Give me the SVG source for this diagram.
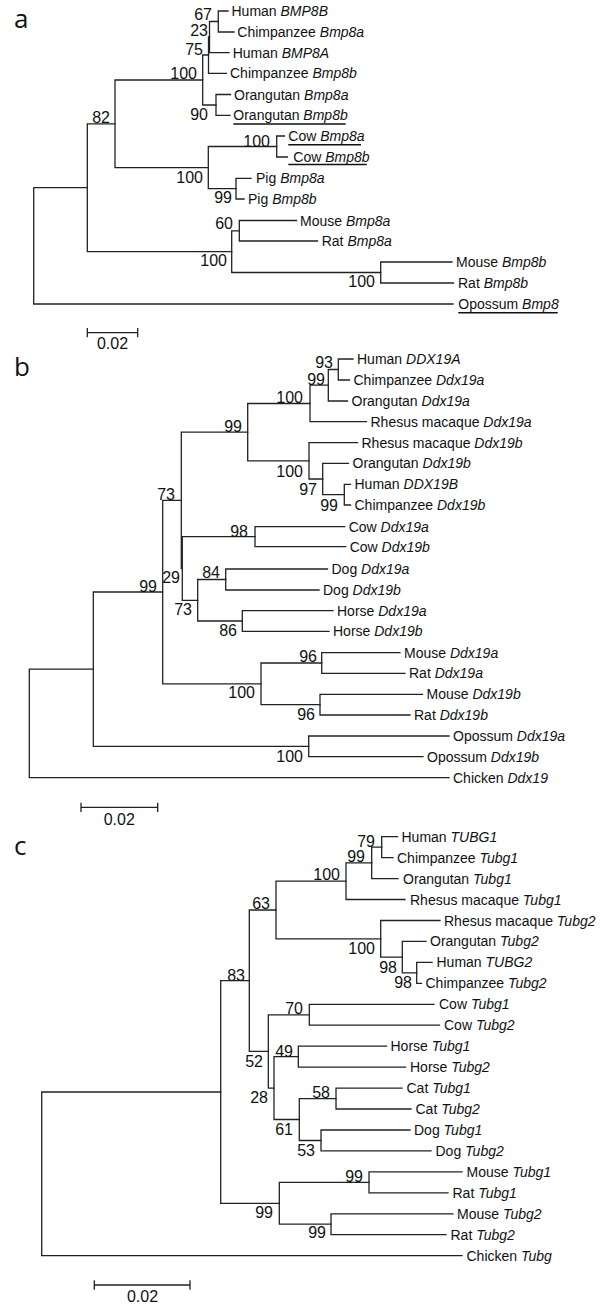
<svg xmlns="http://www.w3.org/2000/svg" width="600" height="1306" viewBox="0 0 600 1306">
<style>
.br{fill:none;stroke:#222;stroke-width:1.3;stroke-linecap:square}
.lf{font-family:"Liberation Sans",Arial,sans-serif;font-size:14px;fill:#111}
.it{font-style:italic}
.bs{font-family:"Liberation Sans",Arial,sans-serif;font-size:16px;fill:#111;text-anchor:end}
.sc{font-family:"Liberation Sans",Arial,sans-serif;font-size:16px;fill:#111;text-anchor:middle}
.pl{font-family:"Open Sans","DejaVu Sans",sans-serif;font-size:26px;fill:#111}
.ul{stroke:#111;stroke-width:1.6}
</style>
<rect width="600" height="1306" fill="#fff"/>

<!-- Panel a -->
<text class="pl" x="14" y="28">a</text>
<g id="a-connectors">
<path class="br" d="M228,11 H218.3 V32 H234"/>
<path class="br" d="M218.3,21.5 H209.5 V52.7 H229"/>
<path class="br" d="M209.5,37 H208.5 V73.3 H226.5"/>
<path class="br" d="M230.5,94.5 H216 V115.3 H230"/>
<path class="br" d="M208.5,55 H202.7 V105 H216"/>
<path class="br" d="M284.5,136 H276.7 V157 H287.3"/>
<path class="br" d="M251,178.3 H236 V199 H244"/>
<path class="br" d="M276.7,146.5 H208.3 V188.7 H236"/>
<path class="br" d="M202.7,80 H115 V167.6 H208.3"/>
<path class="br" d="M296.5,220.5 H239.3 V241 H317.5"/>
<path class="br" d="M452,262 H380.7 V283 H453.5"/>
<path class="br" d="M239.3,230.8 H231.7 V272.5 H380.7"/>
<path class="br" d="M115,123.8 H87.3 V251.6 H231.7"/>
<path class="br" d="M87.3,187.7 H33.7 V304 H453"/>
</g>
<g id="a-leaves">
<g id="a-human-bmp8b"><text class="lf" x="231.5" y="16">Human <tspan class="it">BMP8B</tspan></text></g>
<g id="a-chimp-bmp8a"><text class="lf" x="237.3" y="37">Chimpanzee <tspan class="it">Bmp8a</tspan></text></g>
<g id="a-human-bmp8a"><text class="lf" x="232.7" y="57.7">Human <tspan class="it">BMP8A</tspan></text></g>
<g id="a-chimp-bmp8b"><text class="lf" x="230" y="78.3">Chimpanzee <tspan class="it">Bmp8b</tspan></text></g>
<g id="a-orang-bmp8a"><text class="lf" x="234" y="99.5">Orangutan <tspan class="it">Bmp8a</tspan></text></g>
<g id="a-orang-bmp8b"><text class="lf" x="233.3" y="120.3">Orangutan <tspan class="it">Bmp8b</tspan></text><line class="ul" x1="233.3" y1="124" x2="345.7" y2="124"/></g>
<g id="a-cow-bmp8a"><text class="lf" x="288.3" y="141">Cow <tspan class="it">Bmp8a</tspan></text><line class="ul" x1="288.3" y1="144.7" x2="361" y2="144.7"/></g>
<g id="a-cow-bmp8b"><text class="lf" x="293.3" y="162">Cow <tspan class="it">Bmp8b</tspan></text><line class="ul" x1="288.3" y1="164.5" x2="366.7" y2="164.5"/></g>
<g id="a-pig-bmp8a"><text class="lf" x="256" y="183.3">Pig <tspan class="it">Bmp8a</tspan></text></g>
<g id="a-pig-bmp8b"><text class="lf" x="248" y="204">Pig <tspan class="it">Bmp8b</tspan></text></g>
<g id="a-mouse-bmp8a"><text class="lf" x="300" y="225.5">Mouse <tspan class="it">Bmp8a</tspan></text></g>
<g id="a-rat-bmp8a"><text class="lf" x="321.7" y="246">Rat <tspan class="it">Bmp8a</tspan></text></g>
<g id="a-mouse-bmp8b"><text class="lf" x="456" y="267">Mouse <tspan class="it">Bmp8b</tspan></text></g>
<g id="a-rat-bmp8b"><text class="lf" x="458" y="288">Rat <tspan class="it">Bmp8b</tspan></text></g>
<g id="a-opossum-bmp8"><text class="lf" x="458.3" y="309">Opossum <tspan class="it">Bmp8</tspan></text><line class="ul" x1="458.3" y1="312.7" x2="557.7" y2="312.7"/></g>
</g>
<g id="a-bootstrap">
<text class="bs" x="212" y="20">67</text>
<text class="bs" x="208" y="36">23</text>
<text class="bs" x="203" y="55">75</text>
<text class="bs" x="197" y="79">100</text>
<text class="bs" x="208" y="120">90</text>
<text class="bs" x="110" y="122.5">82</text>
<text class="bs" x="270" y="146.5">100</text>
<text class="bs" x="203" y="182.7">100</text>
<text class="bs" x="232" y="203.3">99</text>
<text class="bs" x="233" y="229">60</text>
<text class="bs" x="227" y="266">100</text>
<text class="bs" x="375" y="286.7">100</text>
</g>
<g id="a-scale">
<path class="br" d="M87.3,332.7 H137.7 M87.3,328.7 V336.7 M137.7,328.7 V336.7"/>
<text class="sc" x="112.5" y="349">0.02</text>
</g>

<!-- Panel b -->
<text class="pl" x="14" y="376">b</text>
<g id="b-connectors">
<path class="br" d="M353,359 H338.3 V380 H349.5"/>
<path class="br" d="M338.3,369.5 H328.3 V401 H347.5"/>
<path class="br" d="M328.3,385.2 H310 V421.7 H366.5"/>
<path class="br" d="M350.5,484.3 H344.3 V505 H350.5"/>
<path class="br" d="M348.5,463.3 H322.7 V494.7 H344.3"/>
<path class="br" d="M357.5,442.7 H309 V479 H322.7"/>
<path class="br" d="M310,403.5 H247.7 V460.8 H309"/>
<path class="br" d="M344.7,526.7 H255 V546.7 H345.7"/>
<path class="br" d="M327.5,569 H225.7 V590 H319"/>
<path class="br" d="M333,610.7 H242.3 V631.3 H329"/>
<path class="br" d="M225.7,579.5 H197.7 V621 H242.3"/>
<path class="br" d="M255,536.7 H182.3 V600.3 H197.7"/>
<path class="br" d="M247.7,432.2 H181.3 V568.5 H182.3"/>
<path class="br" d="M400,652.7 H321.7 V673.3 H405"/>
<path class="br" d="M422.5,694.3 H320 V715 H410"/>
<path class="br" d="M321.7,663 H261 V704.7 H320"/>
<path class="br" d="M181.3,500.3 H162.7 V683.8 H261"/>
<path class="br" d="M449,736 H308.7 V756.7 H423"/>
<path class="br" d="M162.7,592 H93.3 V746.3 H308.7"/>
<path class="br" d="M93.3,669.2 H29.3 V777.7 H449"/>
</g>
<g id="b-leaves">
<g id="b-human-ddx19a"><text class="lf" x="357" y="364">Human <tspan class="it">DDX19A</tspan></text></g>
<g id="b-chimp-ddx19a"><text class="lf" x="353.5" y="385">Chimpanzee <tspan class="it">Ddx19a</tspan></text></g>
<g id="b-orang-ddx19a"><text class="lf" x="351.5" y="406">Orangutan <tspan class="it">Ddx19a</tspan></text></g>
<g id="b-rhesus-ddx19a"><text class="lf" x="370.5" y="426.7">Rhesus macaque <tspan class="it">Ddx19a</tspan></text></g>
<g id="b-rhesus-ddx19b"><text class="lf" x="361.5" y="447.7">Rhesus macaque <tspan class="it">Ddx19b</tspan></text></g>
<g id="b-orang-ddx19b"><text class="lf" x="352.5" y="468.3">Orangutan <tspan class="it">Ddx19b</tspan></text></g>
<g id="b-human-ddx19b"><text class="lf" x="354.5" y="489.3">Human <tspan class="it">DDX19B</tspan></text></g>
<g id="b-chimp-ddx19b"><text class="lf" x="354.5" y="510">Chimpanzee <tspan class="it">Ddx19b</tspan></text></g>
<g id="b-cow-ddx19a"><text class="lf" x="348.7" y="531.7">Cow <tspan class="it">Ddx19a</tspan></text></g>
<g id="b-cow-ddx19b"><text class="lf" x="349.7" y="551.7">Cow <tspan class="it">Ddx19b</tspan></text></g>
<g id="b-dog-ddx19a"><text class="lf" x="331.5" y="574">Dog <tspan class="it">Ddx19a</tspan></text></g>
<g id="b-dog-ddx19b"><text class="lf" x="323" y="595">Dog <tspan class="it">Ddx19b</tspan></text></g>
<g id="b-horse-ddx19a"><text class="lf" x="337" y="615.7">Horse <tspan class="it">Ddx19a</tspan></text></g>
<g id="b-horse-ddx19b"><text class="lf" x="333" y="636.3">Horse <tspan class="it">Ddx19b</tspan></text></g>
<g id="b-mouse-ddx19a"><text class="lf" x="404" y="657.7">Mouse <tspan class="it">Ddx19a</tspan></text></g>
<g id="b-rat-ddx19a"><text class="lf" x="409" y="678.3">Rat <tspan class="it">Ddx19a</tspan></text></g>
<g id="b-mouse-ddx19b"><text class="lf" x="426.5" y="699.3">Mouse <tspan class="it">Ddx19b</tspan></text></g>
<g id="b-rat-ddx19b"><text class="lf" x="414" y="720">Rat <tspan class="it">Ddx19b</tspan></text></g>
<g id="b-opossum-ddx19a"><text class="lf" x="453" y="741">Opossum <tspan class="it">Ddx19a</tspan></text></g>
<g id="b-opossum-ddx19b"><text class="lf" x="427" y="761.7">Opossum <tspan class="it">Ddx19b</tspan></text></g>
<g id="b-chicken-ddx19"><text class="lf" x="453" y="782.7">Chicken <tspan class="it">Ddx19</tspan></text></g>
</g>
<g id="b-bootstrap">
<text class="bs" x="333" y="368.3">93</text>
<text class="bs" x="325" y="385">99</text>
<text class="bs" x="303" y="403.3">100</text>
<text class="bs" x="303" y="476.7">100</text>
<text class="bs" x="317" y="495">97</text>
<text class="bs" x="338" y="510.7">99</text>
<text class="bs" x="242" y="431.7">99</text>
<text class="bs" x="175" y="500">73</text>
<text class="bs" x="248" y="536.7">98</text>
<text class="bs" x="220" y="578.3">84</text>
<text class="bs" x="180" y="583.3">29</text>
<text class="bs" x="157" y="591.7">99</text>
<text class="bs" x="192" y="615">73</text>
<text class="bs" x="237" y="636">86</text>
<text class="bs" x="255" y="698.3">100</text>
<text class="bs" x="317" y="661.7">96</text>
<text class="bs" x="315" y="720">96</text>
<text class="bs" x="303" y="761.7">100</text>
</g>
<g id="b-scale">
<path class="br" d="M81,807.3 H157.7 M81,803.3 V811.3 M157.7,803.3 V811.3"/>
<text class="sc" x="119.3" y="825">0.02</text>
</g>

<!-- Panel c -->
<text class="pl" x="14" y="855">c</text>
<g id="c-connectors">
<path class="br" d="M397.5,836.7 H381.7 V857.6 H393"/>
<path class="br" d="M381.7,847.2 H371.7 V878.6 H398"/>
<path class="br" d="M371.7,862.9 H346 V899.5 H405"/>
<path class="br" d="M432,962.4 H416.7 V983.3 H421.5"/>
<path class="br" d="M426,941.4 H402.3 V972.9 H416.7"/>
<path class="br" d="M440,920.5 H380.7 V957.1 H402.3"/>
<path class="br" d="M346,881.2 H276 V938.8 H380.7"/>
<path class="br" d="M434,1004.3 H309.3 V1025.2 H439.5"/>
<path class="br" d="M386.5,1046.2 H298.3 V1067.1 H405.5"/>
<path class="br" d="M402,1088.1 H336 V1109 H411"/>
<path class="br" d="M410,1130 H321 V1150.9 H431"/>
<path class="br" d="M336,1098.6 H299.3 V1140.5 H321"/>
<path class="br" d="M298.3,1056.7 H274 V1119.5 H299.3"/>
<path class="br" d="M309.3,1014.8 H268.3 V1088.1 H274"/>
<path class="br" d="M276,910 H249.3 V1051.4 H268.3"/>
<path class="br" d="M462,1171.9 H369 V1192.8 H448"/>
<path class="br" d="M453,1213.8 H331 V1234.7 H446"/>
<path class="br" d="M369,1182.3 H279.3 V1224.2 H331"/>
<path class="br" d="M249.3,980.7 H220.7 V1203.3 H279.3"/>
<path class="br" d="M220.7,1092 H41.7 V1255.7 H462"/>
</g>
<g id="c-leaves">
<g id="c-human-tubg1"><text class="lf" x="401.5" y="841.7">Human <tspan class="it">TUBG1</tspan></text></g>
<g id="c-chimp-tubg1"><text class="lf" x="397" y="862.6">Chimpanzee <tspan class="it">Tubg1</tspan></text></g>
<g id="c-orang-tubg1"><text class="lf" x="403" y="883.6">Orangutan <tspan class="it">Tubg1</tspan></text></g>
<g id="c-rhesus-tubg1"><text class="lf" x="410" y="904.5">Rhesus macaque <tspan class="it">Tubg1</tspan></text></g>
<g id="c-rhesus-tubg2"><text class="lf" x="444" y="925.5">Rhesus macaque <tspan class="it">Tubg2</tspan></text></g>
<g id="c-orang-tubg2"><text class="lf" x="430" y="946.4">Orangutan <tspan class="it">Tubg2</tspan></text></g>
<g id="c-human-tubg2"><text class="lf" x="436.5" y="967.4">Human <tspan class="it">TUBG2</tspan></text></g>
<g id="c-chimp-tubg2"><text class="lf" x="425.5" y="988.3">Chimpanzee <tspan class="it">Tubg2</tspan></text></g>
<g id="c-cow-tubg1"><text class="lf" x="439" y="1009.3">Cow <tspan class="it">Tubg1</tspan></text></g>
<g id="c-cow-tubg2"><text class="lf" x="444" y="1030.2">Cow <tspan class="it">Tubg2</tspan></text></g>
<g id="c-horse-tubg1"><text class="lf" x="390.5" y="1051.2">Horse <tspan class="it">Tubg1</tspan></text></g>
<g id="c-horse-tubg2"><text class="lf" x="410" y="1072.1">Horse <tspan class="it">Tubg2</tspan></text></g>
<g id="c-cat-tubg1"><text class="lf" x="406.5" y="1093.1">Cat <tspan class="it">Tubg1</tspan></text></g>
<g id="c-cat-tubg2"><text class="lf" x="415.5" y="1114">Cat <tspan class="it">Tubg2</tspan></text></g>
<g id="c-dog-tubg1"><text class="lf" x="414" y="1135">Dog <tspan class="it">Tubg1</tspan></text></g>
<g id="c-dog-tubg2"><text class="lf" x="435.5" y="1155.9">Dog <tspan class="it">Tubg2</tspan></text></g>
<g id="c-mouse-tubg1"><text class="lf" x="466.5" y="1176.9">Mouse <tspan class="it">Tubg1</tspan></text></g>
<g id="c-rat-tubg1"><text class="lf" x="452.5" y="1197.8">Rat <tspan class="it">Tubg1</tspan></text></g>
<g id="c-mouse-tubg2"><text class="lf" x="457" y="1218.8">Mouse <tspan class="it">Tubg2</tspan></text></g>
<g id="c-rat-tubg2"><text class="lf" x="450.5" y="1239.7">Rat <tspan class="it">Tubg2</tspan></text></g>
<g id="c-chicken-tubg"><text class="lf" x="466.5" y="1260.7">Chicken <tspan class="it">Tubg</tspan></text></g>
</g>
<g id="c-bootstrap">
<text class="bs" x="375" y="846.7">79</text>
<text class="bs" x="365" y="862">99</text>
<text class="bs" x="340" y="880">100</text>
<text class="bs" x="270" y="909.3">63</text>
<text class="bs" x="375" y="954.3">100</text>
<text class="bs" x="397" y="972.7">98</text>
<text class="bs" x="412" y="987.7">98</text>
<text class="bs" x="245" y="980.7">83</text>
<text class="bs" x="303" y="1014.3">70</text>
<text class="bs" x="293" y="1056.7">49</text>
<text class="bs" x="263" y="1066.7">52</text>
<text class="bs" x="268" y="1102.7">28</text>
<text class="bs" x="330" y="1097.5">58</text>
<text class="bs" x="293" y="1135">61</text>
<text class="bs" x="315" y="1155.7">53</text>
<text class="bs" x="363" y="1181.7">99</text>
<text class="bs" x="273" y="1218.3">99</text>
<text class="bs" x="326" y="1238.3">99</text>
</g>
<g id="c-scale">
<path class="br" d="M94.3,1285 H190 M94.3,1281 V1289 M190,1281 V1289"/>
<text class="sc" x="142.5" y="1302">0.02</text>
</g>
</svg>
